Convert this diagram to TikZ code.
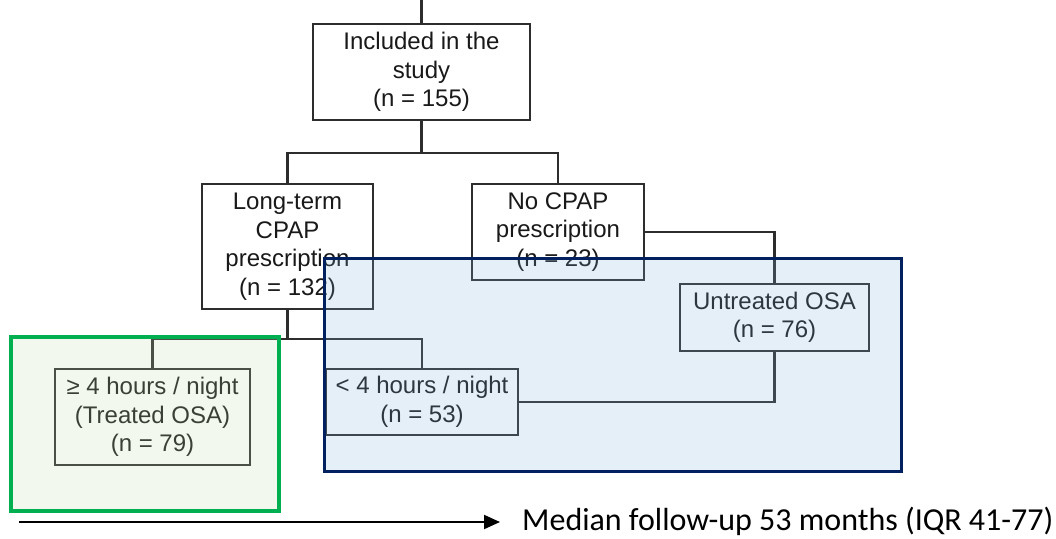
\documentclass[tikz,border=0pt]{standalone}
\usepackage{fontspec}
\setmainfont{Liberation Sans}
\newfontfamily\calibrifont{Carlito}
\usetikzlibrary{arrows.meta}
\definecolor{boxline}{RGB}{45,45,45}
\definecolor{txt}{RGB}{25,25,25}
\definecolor{greenframe}{RGB}{0,176,80}
\definecolor{greenfill}{RGB}{190,220,170}
\definecolor{navyframe}{RGB}{0,32,96}
\definecolor{bluefill}{RGB}{125,175,220}
\begin{document}
\begin{tikzpicture}[x=1pt,y=-1pt,
  flowbox/.style={draw=boxline, line width=2.2pt, fill=white, text=txt, align=center,
    inner sep=0pt, font=\fontsize{24}{28.5}\selectfont},
  link/.style={draw=boxline, line width=2.2pt},
  greenhl/.style={draw=greenframe, line width=3.5pt, fill=greenfill, fill opacity=0.2, draw opacity=1, inner sep=0pt},
  bluehl/.style={draw=navyframe, line width=3pt, fill=bluefill, fill opacity=0.2, draw opacity=1, inner sep=0pt},
  followtext/.style={anchor=base west, inner sep=0pt, font=\calibrifont\fontsize{32}{38}\selectfont}
]
\useasboundingbox (0,0) rectangle (1056,538);

% boxes
\node[flowbox, minimum width=217, minimum height=96] (inc) at (421.5,72) {Included in the\\study\\(n = 155)};
\node[flowbox, minimum width=171, minimum height=125] (ltc) at (287.5,246.5) {Long-term\\CPAP\\prescription\\(n = 132)};
\node[flowbox, minimum width=172, minimum height=96] (nocpap) at (558,232) {No CPAP\\prescription\\(n = 23)};
\node[flowbox, minimum width=189, minimum height=67] (untr) at (774.5,317.5) {Untreated OSA\\(n = 76)};
\node[flowbox, minimum width=195, minimum height=96] (ge4) at (152.5,417) {≥ 4 hours / night\\(Treated OSA)\\(n = 79)};
\node[flowbox, minimum width=192, minimum height=66] (lt4) at (422,402) {< 4 hours / night\\(n = 53)};

% connectors
\coordinate (topin) at (421.5,0);
\draw[link] (topin) -- (inc.north);
\draw[link] (inc.south) -- (inc.south |- 0,153) -| (ltc.north);
\draw[link] (inc.south |- 0,153) -| (nocpap.north);
\draw[link] (nocpap.east) -| (untr.north);
\draw[link] (ltc.south) -- (ltc.south |- 0,339) -| (ge4.north);
\draw[link] (ltc.south |- 0,339) -| (lt4.north);
\draw[link] (untr.south) |- (lt4.east);

% highlight frames
\node[greenhl, minimum width=268, minimum height=174] (treatedframe) at (145,424) {};
\node[bluehl, minimum width=577, minimum height=213.5] (untreatedframe) at (612.5,364.75) {};

% follow-up arrow
\coordinate (arrstart) at (19,522);
\coordinate (arrtip) at (500,522);
\draw[line width=2pt, -{Triangle[length=16pt,width=14pt]}] (arrstart) -- (arrtip);
\node[followtext] (fu) at (522,530) {Median follow-up 53 months (IQR 41-77)};
\end{tikzpicture}
\end{document}
